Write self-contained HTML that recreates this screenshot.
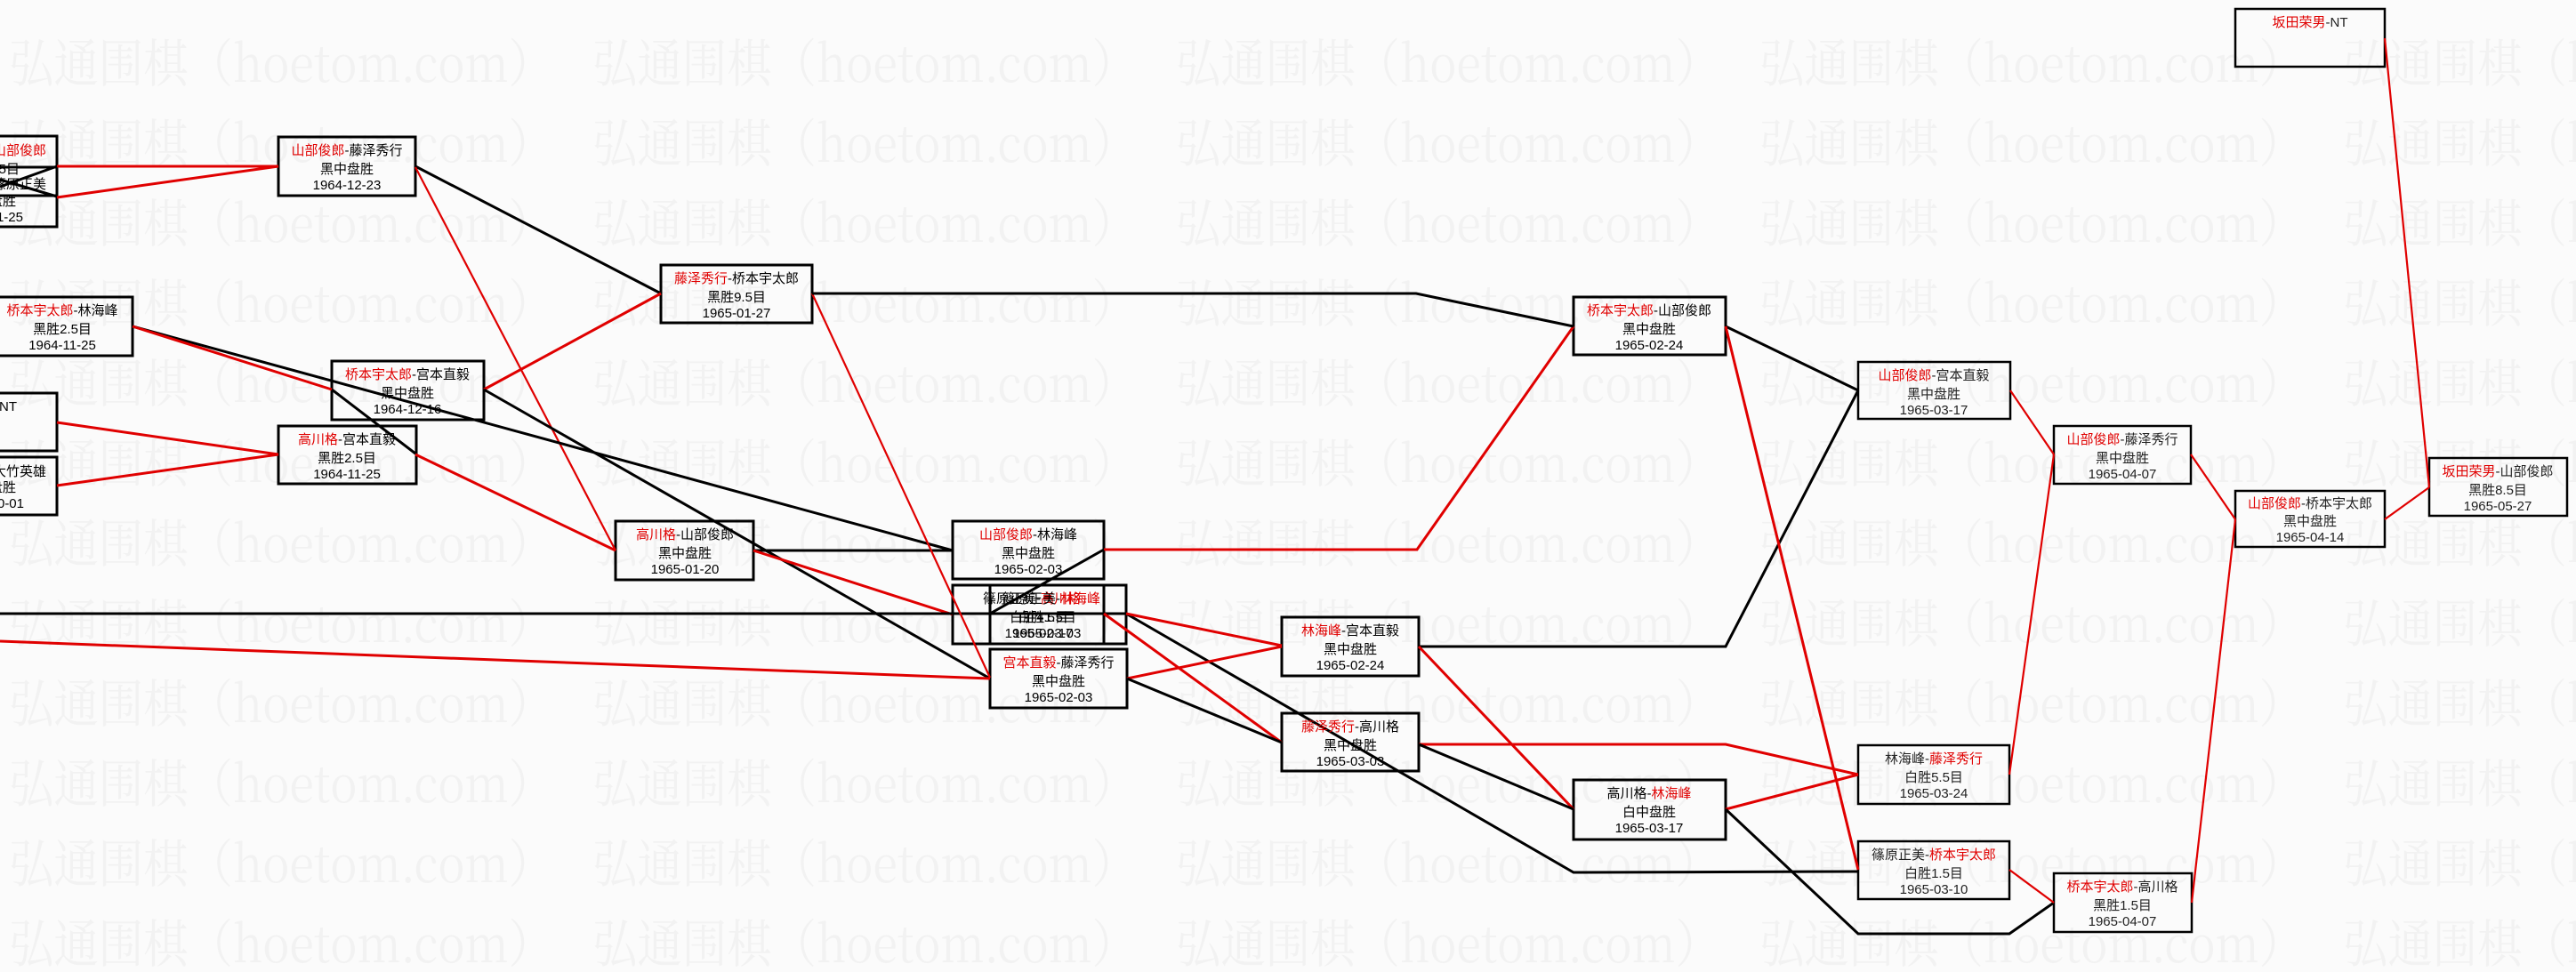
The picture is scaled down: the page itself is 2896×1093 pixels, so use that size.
<!DOCTYPE html>
<html><head><meta charset="utf-8">
<style>
html,body{margin:0;padding:0;background:#fbfbfb;}
svg{display:block;}
.wm{font-family:"Noto Serif CJK SC","Liberation Serif",serif;font-size:58px;fill:#f2f2f2;}
.t{font-family:"Liberation Sans","Noto Sans CJK SC",sans-serif;font-size:15px;fill:#000;text-anchor:middle;}
.r{fill:#e00000;}
.bx{fill:none;stroke:#000;stroke-width:3;}
.bk{stroke:#000;stroke-width:3;fill:none;}
.rd{stroke:#e00000;stroke-width:3;fill:none;}
.bk2{stroke:#000;stroke-width:2.2;fill:none;}
.rd2{stroke:#e00000;stroke-width:2.2;fill:none;}
</style></head><body>
<svg width="2896" height="1093" viewBox="0 0 2896 1093" xmlns="http://www.w3.org/2000/svg">
<g id="wm"></g>
<g class="wm">
<text x="10" y="92" textLength="612" lengthAdjust="spacingAndGlyphs">弘通围棋（hoetom.com）</text>
</g>
<script>
(function(){
var g=document.getElementById('wm');var ns='http://www.w3.org/2000/svg';
for(var r=0;r<12;r++){for(var c=0;c<5;c++){
 if(r==0&&c==0)continue;
 var t=document.createElementNS(ns,'text');t.setAttribute('class','wm');
 t.setAttribute('x',10+c*656);t.setAttribute('y',92+r*90);
 t.setAttribute('textLength','612');t.setAttribute('lengthAdjust','spacingAndGlyphs');
 t.textContent='弘通围棋（hoetom.com）';g.appendChild(t);}}
})();
</script>

<g class="bx">
<rect x="-110" y="153" width="174" height="67"/>
<rect x="-110" y="188" width="174" height="67"/>
<rect x="-110" y="442" width="174" height="65"/>
<rect x="-110" y="514" width="174" height="65"/>
<rect x="313" y="154" width="154" height="66"/>
<rect x="-10" y="334" width="159" height="66"/>
<rect x="743" y="298" width="170" height="65"/>
<rect x="373" y="406" width="171" height="66"/>
<rect x="313" y="479" width="155" height="65"/>
<rect x="692" y="586" width="155" height="66"/>
<rect x="1071" y="586" width="170" height="65"/>
<rect x="1071" y="658" width="195" height="66"/>
<rect x="1113" y="658" width="128" height="66"/>
<rect x="1113" y="730" width="154" height="66"/>
<rect x="1441" y="694" width="154" height="66"/>
<rect x="1441" y="802" width="154" height="65"/>
<rect x="1769" y="877" width="171" height="67"/>
<rect x="1769" y="334" width="171" height="65"/>
</g>
<g class="bx" style="stroke-width:2.5">
<rect x="2089" y="407" width="171" height="64"/>
<rect x="2089" y="838" width="170" height="66"/>
<rect x="2089" y="946" width="170" height="65"/>
<rect x="2309" y="982" width="155" height="66"/>
<rect x="2309" y="479" width="154" height="65"/>
<rect x="2513" y="552" width="168" height="63"/>
<rect x="2731" y="515" width="155" height="65"/>
<rect x="2513" y="10" width="168" height="65"/>
</g>

<g>
<line class="rd" x1="64" y1="187" x2="313" y2="187"/>
<line class="rd" x1="64" y1="222" x2="313" y2="187"/>
<line class="bk" x1="0" y1="210" x2="64" y2="187"/>
<line class="bk" x1="0" y1="202" x2="64" y2="221"/>
<line class="bk" x1="0" y1="188" x2="64" y2="188"/>
<line class="bk" x1="467" y1="187" x2="743" y2="330"/>
<line class="rd2" x1="467" y1="188" x2="692" y2="619"/>
<line class="rd" x1="544" y1="438" x2="743" y2="330"/>
<line class="bk" x1="149" y1="367" x2="1071" y2="619"/>
<line class="rd" x1="149" y1="367" x2="373" y2="438"/>
<line class="rd" x1="64" y1="475" x2="313" y2="511"/>
<line class="rd" x1="64" y1="546" x2="313" y2="511"/>
<line class="bk" x1="373" y1="438" x2="467" y2="510"/>
<line class="rd" x1="467" y1="511" x2="692" y2="619"/>
<line class="bk" x1="544" y1="438" x2="1113" y2="763"/>
<line class="bk" x1="847" y1="619" x2="1071" y2="619"/>
<line class="rd" x1="847" y1="619" x2="1071" y2="691"/>
<polyline class="bk" points="0,690 1266,690 1769,981 2089,980"/>
<line class="rd" x1="0" y1="721" x2="1113" y2="763"/>
<line class="rd2" x1="913" y1="330" x2="1113" y2="762"/>
<polyline class="rd" points="1241,618 1593,618 1769,367"/>
<line class="bk" x1="1113" y1="690" x2="1241" y2="618"/>
<line class="rd" x1="1266" y1="690" x2="1441" y2="726"/>
<line class="rd" x1="1241" y1="690" x2="1441" y2="835"/>
<line class="rd" x1="1267" y1="763" x2="1441" y2="727"/>
<line class="bk" x1="1267" y1="763" x2="1441" y2="835"/>
<polyline class="bk" points="1595,727 1940,727 2089,439"/>
<line class="rd" x1="1595" y1="727" x2="1769" y2="910"/>
<polyline class="rd" points="1595,837 1940,837 2089,871"/>
<line class="bk" x1="1595" y1="837" x2="1769" y2="910"/>
<line class="rd" x1="1940" y1="910" x2="2089" y2="871"/>
<polyline class="bk" points="1940,910 2089,1050 2259,1050 2309,1015"/>
<polyline class="bk" points="913,330 1592,330 1769,367"/>
<line class="bk" x1="1940" y1="367" x2="2089" y2="439"/>
<line class="rd" x1="1940" y1="367" x2="2089" y2="978"/>
<line class="rd2" x1="2259" y1="978" x2="2309" y2="1015"/>
<line class="rd2" x1="2260" y1="439" x2="2309" y2="511"/>
<line class="rd2" x1="2259" y1="871" x2="2309" y2="511"/>
<line class="rd2" x1="2463" y1="511" x2="2513" y2="584"/>
<line class="rd2" x1="2464" y1="1015" x2="2513" y2="584"/>
<line class="rd2" x1="2681" y1="584" x2="2731" y2="548"/>
<line class="rd2" x1="2681" y1="43" x2="2731" y2="548"/>
</g>

<g class="t">
<text x="52" y="174" text-anchor="end">宫本直毅-<tspan class="r">山部俊郎</tspan></text>
<text x="22" y="195" text-anchor="end">黑胜1.5目</text>
<text x="52" y="212" text-anchor="end">宫本直毅-篠原正美</text>
<text x="18" y="231" text-anchor="end">白中盘胜</text>
<text x="26" y="249" text-anchor="end">1964-11-25</text>
<text x="19" y="462" text-anchor="end"><tspan class="r">林海峰</tspan>-NT</text>
<text x="52" y="535" text-anchor="end">宫本直毅-大竹英雄</text>
<text x="18" y="553" text-anchor="end">黑中盘胜</text>
<text x="27" y="571" text-anchor="end">1964-10-01</text>

<text x="390" y="174"><tspan class="r">山部俊郎</tspan>-藤泽秀行</text><text x="390" y="195">黑中盘胜</text><text x="390" y="213">1964-12-23</text>
<text x="70" y="354"><tspan class="r">桥本宇太郎</tspan>-林海峰</text><text x="70" y="375">黑胜2.5目</text><text x="70" y="393">1964-11-25</text>
<text x="828" y="318"><tspan class="r">藤泽秀行</tspan>-桥本宇太郎</text><text x="828" y="339">黑胜9.5目</text><text x="828" y="357">1965-01-27</text>
<text x="458" y="426"><tspan class="r">桥本宇太郎</tspan>-宫本直毅</text><text x="458" y="447">黑中盘胜</text><text x="458" y="465">1964-12-16</text>
<text x="390" y="499"><tspan class="r">高川格</tspan>-宫本直毅</text><text x="390" y="520">黑胜2.5目</text><text x="390" y="538">1964-11-25</text>
<text x="770" y="606"><tspan class="r">高川格</tspan>-山部俊郎</text><text x="770" y="627">黑中盘胜</text><text x="770" y="645">1965-01-20</text>
<text x="1156" y="606"><tspan class="r">山部俊郎</tspan>-林海峰</text><text x="1156" y="627">黑中盘胜</text><text x="1156" y="645">1965-02-03</text>
<text x="1160" y="678">篠原正美-<tspan class="r">高川格</tspan></text><text x="1168" y="699">白胜4.5目</text><text x="1168" y="717">1965-02-17</text>
<text x="1182" y="678">篠原正美-<tspan class="r">林海峰</tspan></text><text x="1177" y="699">白胜1.5目</text><text x="1177" y="717">1965-03-03</text>
<text x="1190" y="750"><tspan class="r">宫本直毅</tspan>-藤泽秀行</text><text x="1190" y="771">黑中盘胜</text><text x="1190" y="789">1965-02-03</text>
<text x="1518" y="714"><tspan class="r">林海峰</tspan>-宫本直毅</text><text x="1518" y="735">黑中盘胜</text><text x="1518" y="753">1965-02-24</text>
<text x="1518" y="822"><tspan class="r">藤泽秀行</tspan>-高川格</text><text x="1518" y="843">黑中盘胜</text><text x="1518" y="861">1965-03-03</text>
<text x="1854" y="897">高川格-<tspan class="r">林海峰</tspan></text><text x="1854" y="918">白中盘胜</text><text x="1854" y="936">1965-03-17</text>
<text x="1854" y="354"><tspan class="r">桥本宇太郎</tspan>-山部俊郎</text><text x="1854" y="375">黑中盘胜</text><text x="1854" y="393">1965-02-24</text>
</g>
<g class="t" style="fill:#222">
<text x="2174" y="427"><tspan class="r">山部俊郎</tspan>-宫本直毅</text><text x="2174" y="448">黑中盘胜</text><text x="2174" y="466">1965-03-17</text>
<text x="2174" y="858">林海峰-<tspan class="r">藤泽秀行</tspan></text><text x="2174" y="879">白胜5.5目</text><text x="2174" y="897">1965-03-24</text>
<text x="2174" y="966">篠原正美-<tspan class="r">桥本宇太郎</tspan></text><text x="2174" y="987">白胜1.5目</text><text x="2174" y="1005">1965-03-10</text>
<text x="2386" y="1002"><tspan class="r">桥本宇太郎</tspan>-高川格</text><text x="2386" y="1023">黑胜1.5目</text><text x="2386" y="1041">1965-04-07</text>
<text x="2386" y="499"><tspan class="r">山部俊郎</tspan>-藤泽秀行</text><text x="2386" y="520">黑中盘胜</text><text x="2386" y="538">1965-04-07</text>
<text x="2597" y="571"><tspan class="r">山部俊郎</tspan>-桥本宇太郎</text><text x="2597" y="591">黑中盘胜</text><text x="2597" y="609">1965-04-14</text>
<text x="2808" y="535"><tspan class="r">坂田荣男</tspan>-山部俊郎</text><text x="2808" y="556">黑胜8.5目</text><text x="2808" y="574">1965-05-27</text>
<text x="2597" y="30"><tspan class="r">坂田荣男</tspan>-NT</text>
</g>
</svg>
</body></html>
